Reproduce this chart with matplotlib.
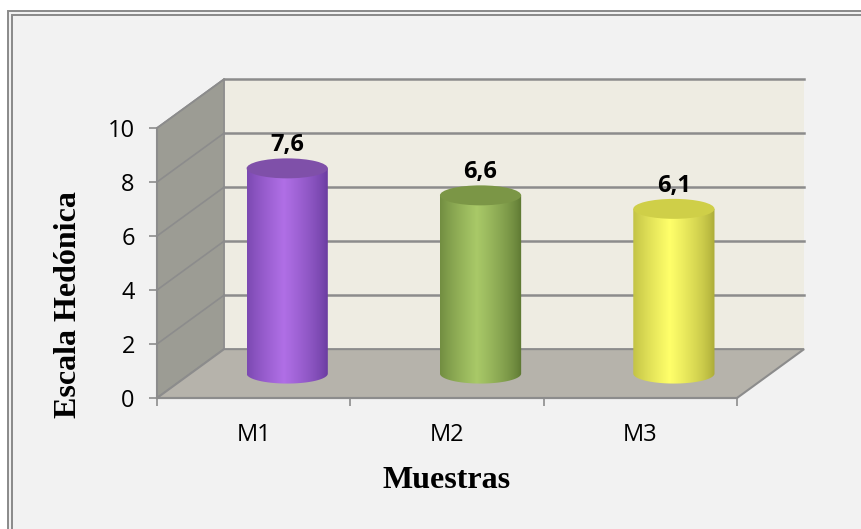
import numpy as np
import matplotlib.pyplot as plt
from matplotlib.patches import Polygon, Ellipse, Rectangle
from matplotlib.path import Path
from matplotlib.colors import to_rgb

muestras = ['M1', 'M2', 'M3']
valores = [7.6, 6.6, 6.1]
etiquetas = ['7,6', '6,6', '6,1']
c_centro = ['#b06fe6', '#a9c968', '#ffff6a']
c_borde = ['#64389a', '#5a7430', '#a8a836']
c_tapa = ['#7f50a9', '#7b9646', '#cfcf48']

dx, dy = 0.347, 1.81      # fondo 3D (unidades de datos)
r, h = 0.21, 0.37         # radio del cilindro y semieje vertical de la elipse
gris = '#8c8c8c'

fig = plt.figure(figsize=(8.61, 5.29), dpi=100)
fig.patch.set_facecolor('white')
fig.patches.append(Rectangle((8/861, -0.1), 1.2, 1 - 11/529 + 0.1, transform=fig.transFigure,
                             facecolor='#f2f2f2', edgecolor='#8a8a8a', lw=1.4, zorder=-2))
fig.patches.append(Rectangle((12/861, -0.1), 1.2, 1 - 15/529 + 0.1, transform=fig.transFigure,
                             facecolor='#f2f2f2', edgecolor='#8a8a8a', lw=1.4, zorder=-1))

ax = fig.add_axes([157/861, 1 - 398/529, 580/861, 270/529])
ax.set_facecolor('none')

# paredes y suelo
ax.add_patch(Polygon([(dx, dy), (3 + dx, dy), (3 + dx, 10 + dy), (dx, 10 + dy)],
                     closed=True, facecolor='#eeece2', edgecolor='none', clip_on=False, zorder=1))
ax.add_patch(Polygon([(0, 0), (dx, dy), (dx, 10 + dy), (0, 10)],
                     closed=True, facecolor='#9c9c94', edgecolor=gris, lw=1.2, clip_on=False, zorder=1))
ax.add_patch(Polygon([(0, 0), (3, 0), (3 + dx, dy), (dx, dy)],
                     closed=True, facecolor='#b6b3ab', edgecolor=gris, lw=1.5, clip_on=False, zorder=2))
for v in [2, 4, 6, 8, 10]:
    ax.plot([dx, 3 + dx], [v + dy, v + dy], color=gris, lw=1.8, clip_on=False, zorder=2)
    ax.plot([0, dx], [v, v + dy], color=gris, lw=1.2, clip_on=False, zorder=2)

# cilindros
t = np.linspace(0, 1, 200)
perfil = np.clip(1 - np.abs(t - 0.45) / 0.55, 0, 1) ** 0.7
ang = np.linspace(np.pi, 2 * np.pi, 60)
for i, v in enumerate(valores):
    cx = i + 0.5 + dx / 2
    base = dy / 2
    top = v + base
    verts = [(cx - r, top)] + [(cx + r * np.cos(a), base + h * np.sin(a)) for a in ang] + [(cx + r, top), (cx - r, top)]
    clip = Path(verts, closed=True)
    a0, a1 = np.array(to_rgb(c_borde[i])), np.array(to_rgb(c_centro[i]))
    img = a0[None, :] + (a1 - a0)[None, :] * perfil[:, None]
    im = ax.imshow(img[None, :, :], extent=[cx - r, cx + r, base - h, top], aspect='auto',
                   zorder=3 + i, interpolation='bilinear')
    im.set_clip_path(clip, transform=ax.transData)
    ax.add_patch(Ellipse((cx, top), 2 * r, 2 * h, facecolor=c_tapa[i], edgecolor='none',
                         clip_on=False, zorder=3 + i + 0.5))
    ax.text(cx, top + 0.85, etiquetas[i], ha='center', va='center', fontsize=17,
            fontweight='bold', family='Open Sans', zorder=10)
ax.set_xlim(0, 3)
ax.set_ylim(0, 10)

# ejes
for s in ['top', 'right']:
    ax.spines[s].set_visible(False)
for s in ['left', 'bottom']:
    ax.spines[s].set_color(gris)
    ax.spines[s].set_linewidth(1.5)
    ax.spines[s].set_zorder(2.5)
ax.set_yticks(range(0, 11, 2))
ax.tick_params(axis='y', length=6, color=gris, width=1.2, labelsize=17, pad=10)
ax.set_xticks([0, 1, 2, 3])
ax.set_xticklabels([])
ax.tick_params(axis='x', length=6, color=gris, width=1.2)
ax.set_xticks([0.5, 1.5, 2.5], minor=True)
ax.set_xticklabels(muestras, minor=True)
ax.tick_params(axis='x', which='minor', length=0, labelsize=17, pad=18)
for lab in ax.get_yticklabels() + ax.get_xticklabels(minor=True):
    lab.set_family('Open Sans')

fig.text(69/861, 1 - 305/529, 'Escala Hedónica', rotation=90, ha='center', va='center',
         fontsize=23, fontweight='bold', family='Liberation Serif')
fig.text(447/861, 1 - 481/529, 'Muestras', ha='center', va='center',
         fontsize=23, fontweight='bold', family='Liberation Serif')

fig.savefig('out.png', dpi=100, facecolor=fig.get_facecolor())
